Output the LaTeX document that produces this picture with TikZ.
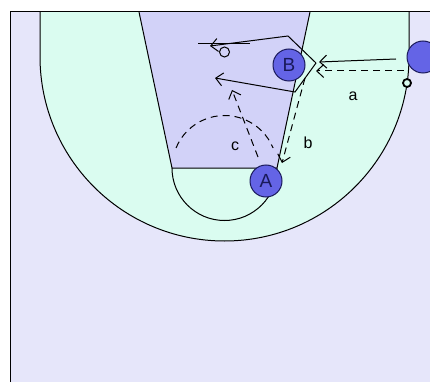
\documentclass[tikz,border=0pt]{standalone}
\usepackage{fontspec}
\setmainfont{Liberation Sans}
\usetikzlibrary{arrows.meta}
\definecolor{bgcol}{RGB}{230,230,250}
\definecolor{greencol}{RGB}{218,252,240}
\definecolor{lanecol}{RGB}{210,210,248}
\definecolor{playercol}{RGB}{100,100,230}
\definecolor{textcol}{RGB}{25,25,90}
\begin{document}
\begin{tikzpicture}[x=1pt,y=-1pt,
  line/.style={black,line width=1pt},
  arr/.style={line,-{Straight Barb[length=7pt,width=13pt]}},
  dsh/.style={dash pattern=on 7pt off 5pt},
  player/.style={circle,draw=textcol,line width=1pt,fill=playercol,minimum size=32pt,inner sep=0pt,font=\fontsize{19}{19}\selectfont,text=textcol},
  ballst/.style={circle,draw=black,line width=1.8pt,minimum size=8pt,inner sep=0pt,fill=greencol},
  lbl/.style={font=\fontsize{16}{16}\selectfont,inner sep=0pt,text=black}]
\useasboundingbox (0,0) rectangle (430,382);
\fill[white] (0,0) rectangle (430,382);
\fill[bgcol] (10,12) rectangle (430,382);
% three-point area
\filldraw[line,fill=greencol] (40,12) -- (40,56.5) arc[start angle=180,end angle=0,radius=184.5] -- (409,12);
% lane
\filldraw[line,fill=lanecol] (139,12) -- (172,168) -- (277,168) -- (310,12);
\draw[line] (172,168) arc[start angle=180,end angle=0,radius=52.5];
\draw[line,dsh] (176,148) arc[start angle=202.4,end angle=337.6,radius=52.5];
% border
\draw[line] (10,382) -- (10,12) -- (430,12);
% backboard and hoop
\coordinate (bbL) at (198,44);
\coordinate (bbR) at (250,44);
\draw[line] (bbL) -- (bbR);
\node[circle,draw=black,line width=1pt,minimum size=10pt,inner sep=0pt] (hoop) at (224.5,52) {};
% players
\node[player] (B) at (289,65) {B};
\node[player] (A) at (266,181) {A};
\node[player] (C) at (423,57) {};
\node[ballst] (ball) at (407,83) {};
% path points
\coordinate (tip) at (316,63);
\coordinate (p1) at (288,36);
\coordinate (e1) at (210,46);
\coordinate (p2) at (295,92);
\coordinate (e2) at (215,78);
\coordinate (rs) at (396,59);
\coordinate (re) at (319,62);
\coordinate (ds) at (404,71);
\coordinate (de) at (316,71);
\coordinate (bs) at (305,78);
\coordinate (be) at (282,163);
\coordinate (cs) at (258,157);
\coordinate (ce) at (232,90);
% movements
\draw[arr] (tip) -- (p1) -- (e1);
\draw[arr] (tip) -- (p2) -- (e2);
\draw[arr] (rs) -- (re);
\draw[arr,dsh] (ds) -- (de);
\draw[arr,dsh] (bs) -- (be);
\draw[arr,dsh] (cs) -- (ce);
% labels
\node[lbl] (la) at (353,96) {a};
\node[lbl] (lb) at (308,143) {b};
\node[lbl] (lc) at (235,146) {c};
\end{tikzpicture}
\end{document}
